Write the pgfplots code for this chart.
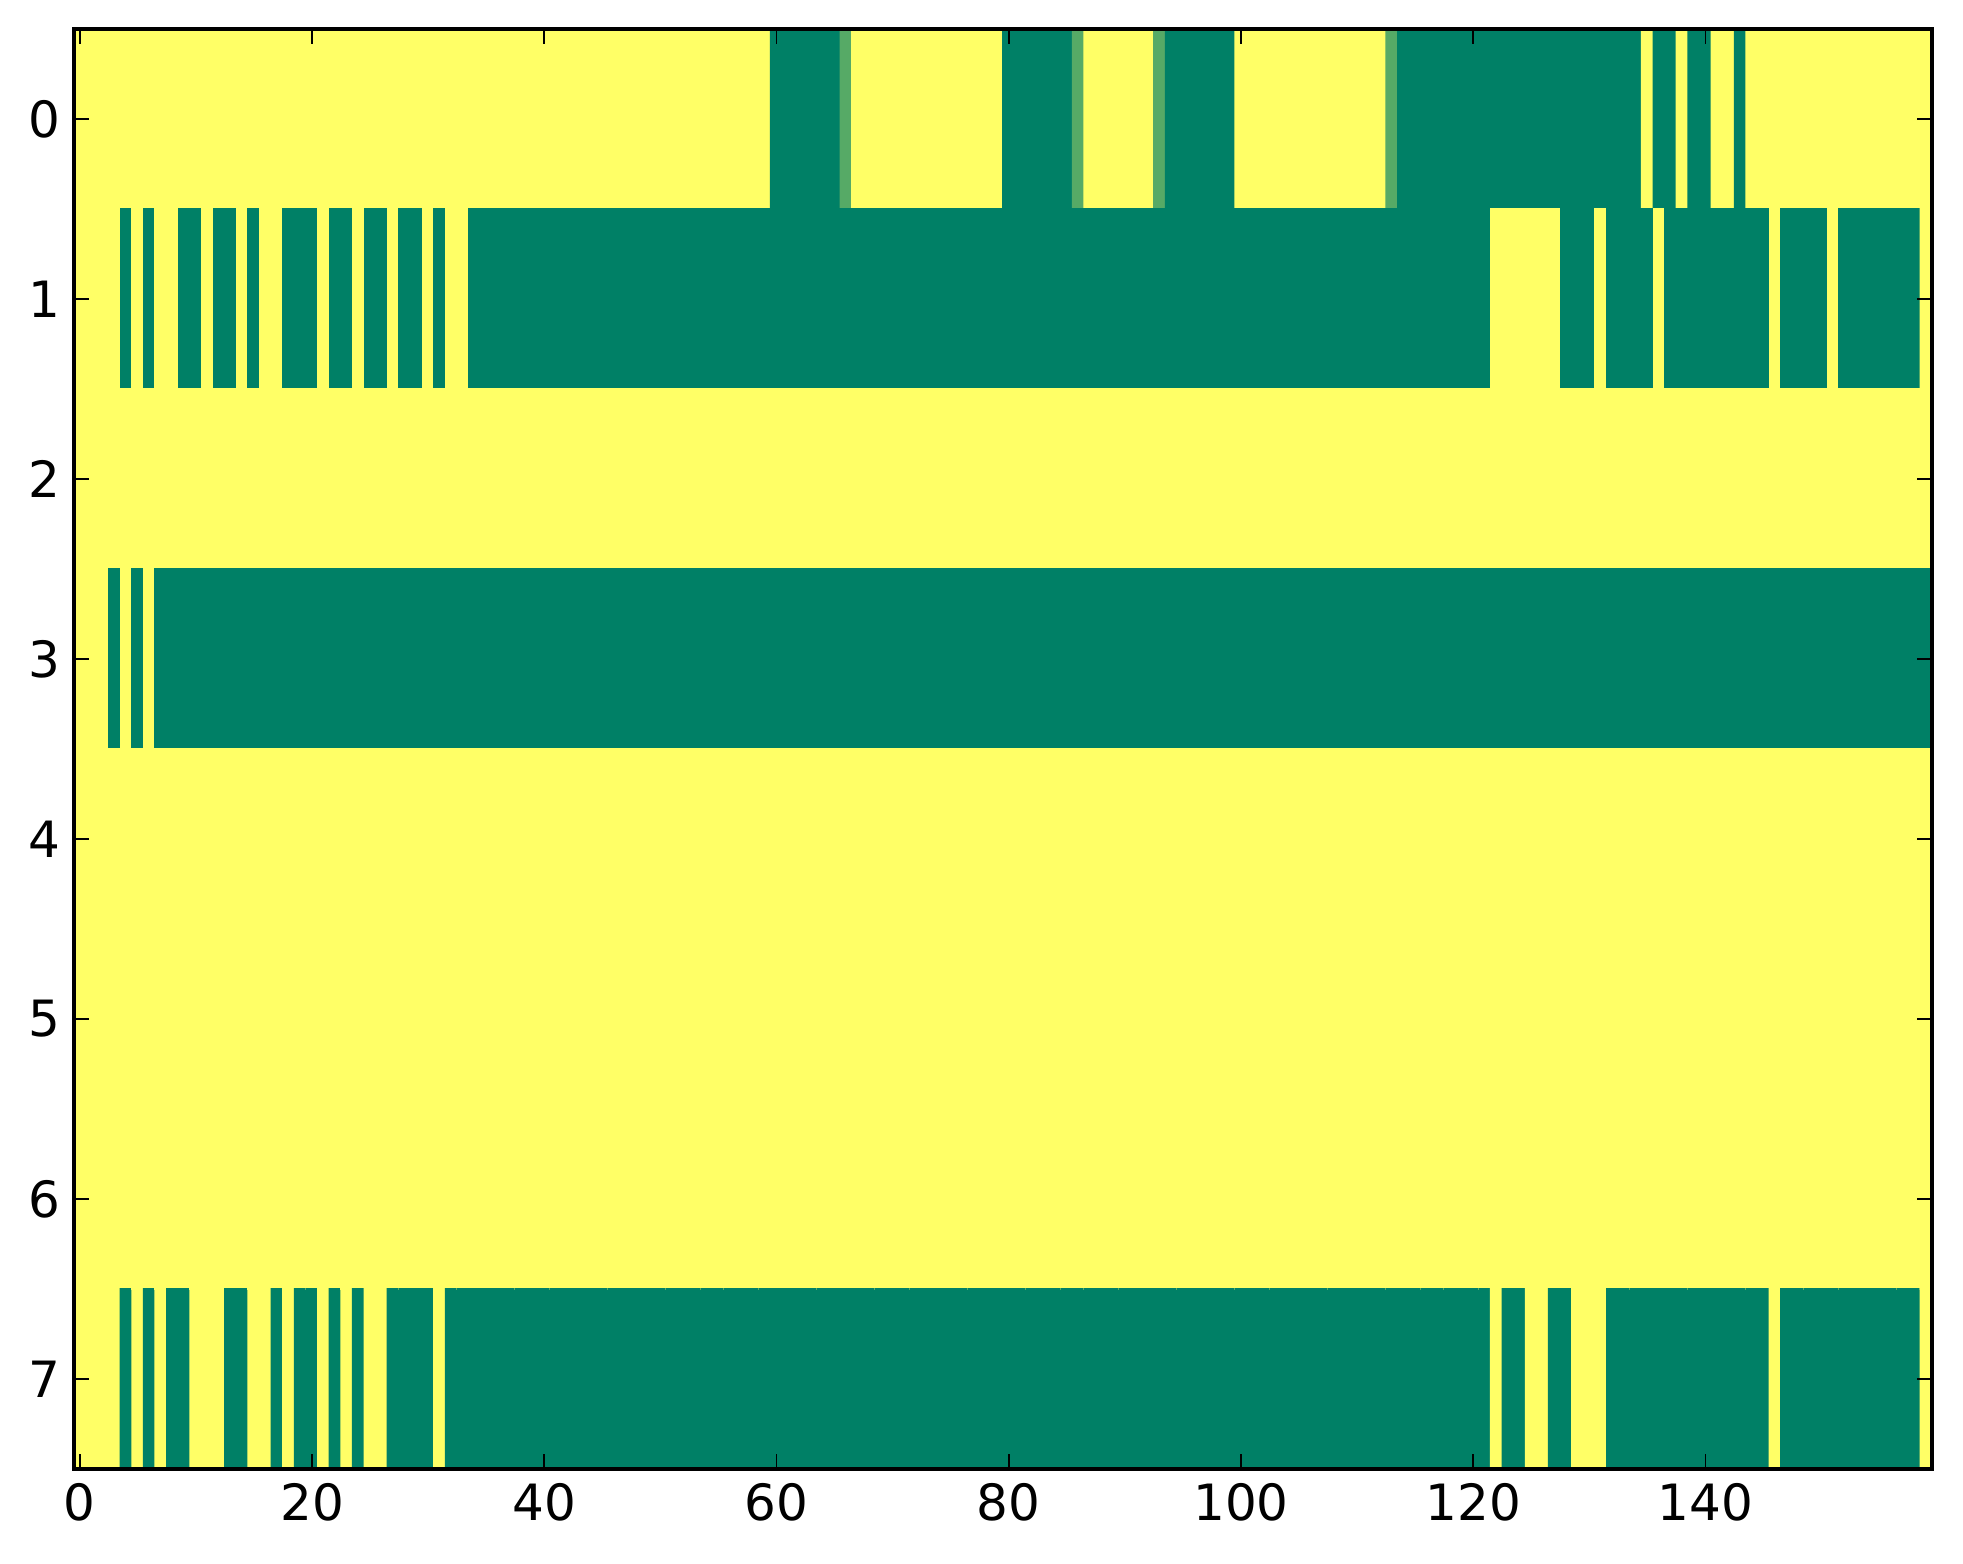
\documentclass[border=0pt]{standalone}
\usepackage{fontspec}
\setmainfont{DejaVu Sans}
\usepackage{pgfplots}
\pgfplotsset{compat=1.18}
\usetikzlibrary{calc}

% 8 x 160 image, values 0 (green) .. 1 (yellow), matplotlib "summer" colormap
\pgfplotstableread{
x y c
0 0 1
1 0 1
2 0 1
3 0 1
4 0 1
5 0 1
6 0 1
7 0 1
8 0 1
9 0 1
10 0 1
11 0 1
12 0 1
13 0 1
14 0 1
15 0 1
16 0 1
17 0 1
18 0 1
19 0 1
20 0 1
21 0 1
22 0 1
23 0 1
24 0 1
25 0 1
26 0 1
27 0 1
28 0 1
29 0 1
30 0 1
31 0 1
32 0 1
33 0 1
34 0 1
35 0 1
36 0 1
37 0 1
38 0 1
39 0 1
40 0 1
41 0 1
42 0 1
43 0 1
44 0 1
45 0 1
46 0 1
47 0 1
48 0 1
49 0 1
50 0 1
51 0 1
52 0 1
53 0 1
54 0 1
55 0 1
56 0 1
57 0 1
58 0 1
59 0 1
60 0 0
61 0 0
62 0 0
63 0 0
64 0 0
65 0 0
66 0 0.333
67 0 1
68 0 1
69 0 1
70 0 1
71 0 1
72 0 1
73 0 1
74 0 1
75 0 1
76 0 1
77 0 1
78 0 1
79 0 1
80 0 0
81 0 0
82 0 0
83 0 0
84 0 0
85 0 0
86 0 0.333
87 0 1
88 0 1
89 0 1
90 0 1
91 0 1
92 0 1
93 0 0.333
94 0 0
95 0 0
96 0 0
97 0 0
98 0 0
99 0 0
100 0 1
101 0 1
102 0 1
103 0 1
104 0 1
105 0 1
106 0 1
107 0 1
108 0 1
109 0 1
110 0 1
111 0 1
112 0 1
113 0 0.333
114 0 0
115 0 0
116 0 0
117 0 0
118 0 0
119 0 0
120 0 0
121 0 0
122 0 0
123 0 0
124 0 0
125 0 0
126 0 0
127 0 0
128 0 0
129 0 0
130 0 0
131 0 0
132 0 0
133 0 0
134 0 0
135 0 1
136 0 0
137 0 0
138 0 1
139 0 0
140 0 0
141 0 1
142 0 1
143 0 0
144 0 1
145 0 1
146 0 1
147 0 1
148 0 1
149 0 1
150 0 1
151 0 1
152 0 1
153 0 1
154 0 1
155 0 1
156 0 1
157 0 1
158 0 1
159 0 1
0 1 1
1 1 1
2 1 1
3 1 1
4 1 0
5 1 1
6 1 0
7 1 1
8 1 1
9 1 0
10 1 0
11 1 1
12 1 0
13 1 0
14 1 1
15 1 0
16 1 1
17 1 1
18 1 0
19 1 0
20 1 0
21 1 1
22 1 0
23 1 0
24 1 1
25 1 0
26 1 0
27 1 1
28 1 0
29 1 0
30 1 1
31 1 0
32 1 1
33 1 1
34 1 0
35 1 0
36 1 0
37 1 0
38 1 0
39 1 0
40 1 0
41 1 0
42 1 0
43 1 0
44 1 0
45 1 0
46 1 0
47 1 0
48 1 0
49 1 0
50 1 0
51 1 0
52 1 0
53 1 0
54 1 0
55 1 0
56 1 0
57 1 0
58 1 0
59 1 0
60 1 0
61 1 0
62 1 0
63 1 0
64 1 0
65 1 0
66 1 0
67 1 0
68 1 0
69 1 0
70 1 0
71 1 0
72 1 0
73 1 0
74 1 0
75 1 0
76 1 0
77 1 0
78 1 0
79 1 0
80 1 0
81 1 0
82 1 0
83 1 0
84 1 0
85 1 0
86 1 0
87 1 0
88 1 0
89 1 0
90 1 0
91 1 0
92 1 0
93 1 0
94 1 0
95 1 0
96 1 0
97 1 0
98 1 0
99 1 0
100 1 0
101 1 0
102 1 0
103 1 0
104 1 0
105 1 0
106 1 0
107 1 0
108 1 0
109 1 0
110 1 0
111 1 0
112 1 0
113 1 0
114 1 0
115 1 0
116 1 0
117 1 0
118 1 0
119 1 0
120 1 0
121 1 0
122 1 1
123 1 1
124 1 1
125 1 1
126 1 1
127 1 1
128 1 0
129 1 0
130 1 0
131 1 1
132 1 0
133 1 0
134 1 0
135 1 0
136 1 1
137 1 0
138 1 0
139 1 0
140 1 0
141 1 0
142 1 0
143 1 0
144 1 0
145 1 0
146 1 1
147 1 0
148 1 0
149 1 0
150 1 0
151 1 1
152 1 0
153 1 0
154 1 0
155 1 0
156 1 0
157 1 0
158 1 0
159 1 1
0 2 1
1 2 1
2 2 1
3 2 1
4 2 1
5 2 1
6 2 1
7 2 1
8 2 1
9 2 1
10 2 1
11 2 1
12 2 1
13 2 1
14 2 1
15 2 1
16 2 1
17 2 1
18 2 1
19 2 1
20 2 1
21 2 1
22 2 1
23 2 1
24 2 1
25 2 1
26 2 1
27 2 1
28 2 1
29 2 1
30 2 1
31 2 1
32 2 1
33 2 1
34 2 1
35 2 1
36 2 1
37 2 1
38 2 1
39 2 1
40 2 1
41 2 1
42 2 1
43 2 1
44 2 1
45 2 1
46 2 1
47 2 1
48 2 1
49 2 1
50 2 1
51 2 1
52 2 1
53 2 1
54 2 1
55 2 1
56 2 1
57 2 1
58 2 1
59 2 1
60 2 1
61 2 1
62 2 1
63 2 1
64 2 1
65 2 1
66 2 1
67 2 1
68 2 1
69 2 1
70 2 1
71 2 1
72 2 1
73 2 1
74 2 1
75 2 1
76 2 1
77 2 1
78 2 1
79 2 1
80 2 1
81 2 1
82 2 1
83 2 1
84 2 1
85 2 1
86 2 1
87 2 1
88 2 1
89 2 1
90 2 1
91 2 1
92 2 1
93 2 1
94 2 1
95 2 1
96 2 1
97 2 1
98 2 1
99 2 1
100 2 1
101 2 1
102 2 1
103 2 1
104 2 1
105 2 1
106 2 1
107 2 1
108 2 1
109 2 1
110 2 1
111 2 1
112 2 1
113 2 1
114 2 1
115 2 1
116 2 1
117 2 1
118 2 1
119 2 1
120 2 1
121 2 1
122 2 1
123 2 1
124 2 1
125 2 1
126 2 1
127 2 1
128 2 1
129 2 1
130 2 1
131 2 1
132 2 1
133 2 1
134 2 1
135 2 1
136 2 1
137 2 1
138 2 1
139 2 1
140 2 1
141 2 1
142 2 1
143 2 1
144 2 1
145 2 1
146 2 1
147 2 1
148 2 1
149 2 1
150 2 1
151 2 1
152 2 1
153 2 1
154 2 1
155 2 1
156 2 1
157 2 1
158 2 1
159 2 1
0 3 1
1 3 1
2 3 1
3 3 0
4 3 1
5 3 0
6 3 1
7 3 0
8 3 0
9 3 0
10 3 0
11 3 0
12 3 0
13 3 0
14 3 0
15 3 0
16 3 0
17 3 0
18 3 0
19 3 0
20 3 0
21 3 0
22 3 0
23 3 0
24 3 0
25 3 0
26 3 0
27 3 0
28 3 0
29 3 0
30 3 0
31 3 0
32 3 0
33 3 0
34 3 0
35 3 0
36 3 0
37 3 0
38 3 0
39 3 0
40 3 0
41 3 0
42 3 0
43 3 0
44 3 0
45 3 0
46 3 0
47 3 0
48 3 0
49 3 0
50 3 0
51 3 0
52 3 0
53 3 0
54 3 0
55 3 0
56 3 0
57 3 0
58 3 0
59 3 0
60 3 0
61 3 0
62 3 0
63 3 0
64 3 0
65 3 0
66 3 0
67 3 0
68 3 0
69 3 0
70 3 0
71 3 0
72 3 0
73 3 0
74 3 0
75 3 0
76 3 0
77 3 0
78 3 0
79 3 0
80 3 0
81 3 0
82 3 0
83 3 0
84 3 0
85 3 0
86 3 0
87 3 0
88 3 0
89 3 0
90 3 0
91 3 0
92 3 0
93 3 0
94 3 0
95 3 0
96 3 0
97 3 0
98 3 0
99 3 0
100 3 0
101 3 0
102 3 0
103 3 0
104 3 0
105 3 0
106 3 0
107 3 0
108 3 0
109 3 0
110 3 0
111 3 0
112 3 0
113 3 0
114 3 0
115 3 0
116 3 0
117 3 0
118 3 0
119 3 0
120 3 0
121 3 0
122 3 0
123 3 0
124 3 0
125 3 0
126 3 0
127 3 0
128 3 0
129 3 0
130 3 0
131 3 0
132 3 0
133 3 0
134 3 0
135 3 0
136 3 0
137 3 0
138 3 0
139 3 0
140 3 0
141 3 0
142 3 0
143 3 0
144 3 0
145 3 0
146 3 0
147 3 0
148 3 0
149 3 0
150 3 0
151 3 0
152 3 0
153 3 0
154 3 0
155 3 0
156 3 0
157 3 0
158 3 0
159 3 0
0 4 1
1 4 1
2 4 1
3 4 1
4 4 1
5 4 1
6 4 1
7 4 1
8 4 1
9 4 1
10 4 1
11 4 1
12 4 1
13 4 1
14 4 1
15 4 1
16 4 1
17 4 1
18 4 1
19 4 1
20 4 1
21 4 1
22 4 1
23 4 1
24 4 1
25 4 1
26 4 1
27 4 1
28 4 1
29 4 1
30 4 1
31 4 1
32 4 1
33 4 1
34 4 1
35 4 1
36 4 1
37 4 1
38 4 1
39 4 1
40 4 1
41 4 1
42 4 1
43 4 1
44 4 1
45 4 1
46 4 1
47 4 1
48 4 1
49 4 1
50 4 1
51 4 1
52 4 1
53 4 1
54 4 1
55 4 1
56 4 1
57 4 1
58 4 1
59 4 1
60 4 1
61 4 1
62 4 1
63 4 1
64 4 1
65 4 1
66 4 1
67 4 1
68 4 1
69 4 1
70 4 1
71 4 1
72 4 1
73 4 1
74 4 1
75 4 1
76 4 1
77 4 1
78 4 1
79 4 1
80 4 1
81 4 1
82 4 1
83 4 1
84 4 1
85 4 1
86 4 1
87 4 1
88 4 1
89 4 1
90 4 1
91 4 1
92 4 1
93 4 1
94 4 1
95 4 1
96 4 1
97 4 1
98 4 1
99 4 1
100 4 1
101 4 1
102 4 1
103 4 1
104 4 1
105 4 1
106 4 1
107 4 1
108 4 1
109 4 1
110 4 1
111 4 1
112 4 1
113 4 1
114 4 1
115 4 1
116 4 1
117 4 1
118 4 1
119 4 1
120 4 1
121 4 1
122 4 1
123 4 1
124 4 1
125 4 1
126 4 1
127 4 1
128 4 1
129 4 1
130 4 1
131 4 1
132 4 1
133 4 1
134 4 1
135 4 1
136 4 1
137 4 1
138 4 1
139 4 1
140 4 1
141 4 1
142 4 1
143 4 1
144 4 1
145 4 1
146 4 1
147 4 1
148 4 1
149 4 1
150 4 1
151 4 1
152 4 1
153 4 1
154 4 1
155 4 1
156 4 1
157 4 1
158 4 1
159 4 1
0 5 1
1 5 1
2 5 1
3 5 1
4 5 1
5 5 1
6 5 1
7 5 1
8 5 1
9 5 1
10 5 1
11 5 1
12 5 1
13 5 1
14 5 1
15 5 1
16 5 1
17 5 1
18 5 1
19 5 1
20 5 1
21 5 1
22 5 1
23 5 1
24 5 1
25 5 1
26 5 1
27 5 1
28 5 1
29 5 1
30 5 1
31 5 1
32 5 1
33 5 1
34 5 1
35 5 1
36 5 1
37 5 1
38 5 1
39 5 1
40 5 1
41 5 1
42 5 1
43 5 1
44 5 1
45 5 1
46 5 1
47 5 1
48 5 1
49 5 1
50 5 1
51 5 1
52 5 1
53 5 1
54 5 1
55 5 1
56 5 1
57 5 1
58 5 1
59 5 1
60 5 1
61 5 1
62 5 1
63 5 1
64 5 1
65 5 1
66 5 1
67 5 1
68 5 1
69 5 1
70 5 1
71 5 1
72 5 1
73 5 1
74 5 1
75 5 1
76 5 1
77 5 1
78 5 1
79 5 1
80 5 1
81 5 1
82 5 1
83 5 1
84 5 1
85 5 1
86 5 1
87 5 1
88 5 1
89 5 1
90 5 1
91 5 1
92 5 1
93 5 1
94 5 1
95 5 1
96 5 1
97 5 1
98 5 1
99 5 1
100 5 1
101 5 1
102 5 1
103 5 1
104 5 1
105 5 1
106 5 1
107 5 1
108 5 1
109 5 1
110 5 1
111 5 1
112 5 1
113 5 1
114 5 1
115 5 1
116 5 1
117 5 1
118 5 1
119 5 1
120 5 1
121 5 1
122 5 1
123 5 1
124 5 1
125 5 1
126 5 1
127 5 1
128 5 1
129 5 1
130 5 1
131 5 1
132 5 1
133 5 1
134 5 1
135 5 1
136 5 1
137 5 1
138 5 1
139 5 1
140 5 1
141 5 1
142 5 1
143 5 1
144 5 1
145 5 1
146 5 1
147 5 1
148 5 1
149 5 1
150 5 1
151 5 1
152 5 1
153 5 1
154 5 1
155 5 1
156 5 1
157 5 1
158 5 1
159 5 1
0 6 1
1 6 1
2 6 1
3 6 1
4 6 1
5 6 1
6 6 1
7 6 1
8 6 1
9 6 1
10 6 1
11 6 1
12 6 1
13 6 1
14 6 1
15 6 1
16 6 1
17 6 1
18 6 1
19 6 1
20 6 1
21 6 1
22 6 1
23 6 1
24 6 1
25 6 1
26 6 1
27 6 1
28 6 1
29 6 1
30 6 1
31 6 1
32 6 1
33 6 1
34 6 1
35 6 1
36 6 1
37 6 1
38 6 1
39 6 1
40 6 1
41 6 1
42 6 1
43 6 1
44 6 1
45 6 1
46 6 1
47 6 1
48 6 1
49 6 1
50 6 1
51 6 1
52 6 1
53 6 1
54 6 1
55 6 1
56 6 1
57 6 1
58 6 1
59 6 1
60 6 1
61 6 1
62 6 1
63 6 1
64 6 1
65 6 1
66 6 1
67 6 1
68 6 1
69 6 1
70 6 1
71 6 1
72 6 1
73 6 1
74 6 1
75 6 1
76 6 1
77 6 1
78 6 1
79 6 1
80 6 1
81 6 1
82 6 1
83 6 1
84 6 1
85 6 1
86 6 1
87 6 1
88 6 1
89 6 1
90 6 1
91 6 1
92 6 1
93 6 1
94 6 1
95 6 1
96 6 1
97 6 1
98 6 1
99 6 1
100 6 1
101 6 1
102 6 1
103 6 1
104 6 1
105 6 1
106 6 1
107 6 1
108 6 1
109 6 1
110 6 1
111 6 1
112 6 1
113 6 1
114 6 1
115 6 1
116 6 1
117 6 1
118 6 1
119 6 1
120 6 1
121 6 1
122 6 1
123 6 1
124 6 1
125 6 1
126 6 1
127 6 1
128 6 1
129 6 1
130 6 1
131 6 1
132 6 1
133 6 1
134 6 1
135 6 1
136 6 1
137 6 1
138 6 1
139 6 1
140 6 1
141 6 1
142 6 1
143 6 1
144 6 1
145 6 1
146 6 1
147 6 1
148 6 1
149 6 1
150 6 1
151 6 1
152 6 1
153 6 1
154 6 1
155 6 1
156 6 1
157 6 1
158 6 1
159 6 1
0 7 1
1 7 1
2 7 1
3 7 1
4 7 0
5 7 1
6 7 0
7 7 1
8 7 0
9 7 0
10 7 1
11 7 1
12 7 1
13 7 0
14 7 0
15 7 1
16 7 1
17 7 0
18 7 1
19 7 0
20 7 0
21 7 1
22 7 0
23 7 1
24 7 0
25 7 1
26 7 1
27 7 0
28 7 0
29 7 0
30 7 0
31 7 1
32 7 0
33 7 0
34 7 0
35 7 0
36 7 0
37 7 0
38 7 0
39 7 0
40 7 0
41 7 0
42 7 0
43 7 0
44 7 0
45 7 0
46 7 0
47 7 0
48 7 0
49 7 0
50 7 0
51 7 0
52 7 0
53 7 0
54 7 0
55 7 0
56 7 0
57 7 0
58 7 0
59 7 0
60 7 0
61 7 0
62 7 0
63 7 0
64 7 0
65 7 0
66 7 0
67 7 0
68 7 0
69 7 0
70 7 0
71 7 0
72 7 0
73 7 0
74 7 0
75 7 0
76 7 0
77 7 0
78 7 0
79 7 0
80 7 0
81 7 0
82 7 0
83 7 0
84 7 0
85 7 0
86 7 0
87 7 0
88 7 0
89 7 0
90 7 0
91 7 0
92 7 0
93 7 0
94 7 0
95 7 0
96 7 0
97 7 0
98 7 0
99 7 0
100 7 0
101 7 0
102 7 0
103 7 0
104 7 0
105 7 0
106 7 0
107 7 0
108 7 0
109 7 0
110 7 0
111 7 0
112 7 0
113 7 0
114 7 0
115 7 0
116 7 0
117 7 0
118 7 0
119 7 0
120 7 0
121 7 0
122 7 1
123 7 0
124 7 0
125 7 1
126 7 1
127 7 0
128 7 0
129 7 1
130 7 1
131 7 1
132 7 0
133 7 0
134 7 0
135 7 0
136 7 0
137 7 0
138 7 0
139 7 0
140 7 0
141 7 0
142 7 0
143 7 0
144 7 0
145 7 0
146 7 1
147 7 0
148 7 0
149 7 0
150 7 0
151 7 0
152 7 0
153 7 0
154 7 0
155 7 0
156 7 0
157 7 0
158 7 0
159 7 1
}\imagedata

\begin{document}
\begin{tikzpicture}
\begin{axis}[
    scale only axis,
    width=464.5pt, height=360pt,
    xmin=-0.5, xmax=159.5,
    ymin=-0.5, ymax=7.5,
    y dir=reverse,
    xtick={0,20,...,140},
    ytick={0,1,...,7},
    tick align=inside,
    major tick length=3.7pt,
    tick style={black, line width=0.45pt},
    axis line style={black, line width=0.8pt},
    ticklabel style={font=\fontsize{12.5}{15}\selectfont},
    /pgf/number format/assume math mode=true,
    colormap={summer}{rgb=(0,0.5,0.4) rgb=(1,1,0.4)},
    point meta min=0, point meta max=1,
    axis on top,
]
\addplot[matrix plot, mesh/cols=160, point meta=explicit] table[x=x, y=y, meta=c] {\imagedata};
\end{axis}
\path[use as bounding box] ($(current axis.south west)+(-18.5pt,-23.75pt)$) rectangle ($(current axis.north east)+(7.75pt,7.25pt)$);
\end{tikzpicture}
\end{document}
